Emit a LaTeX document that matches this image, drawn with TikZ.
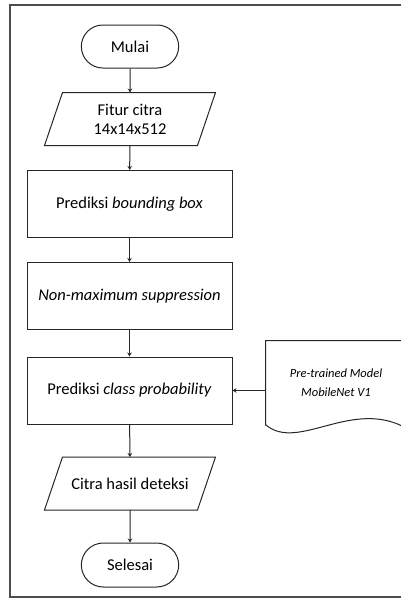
\documentclass[tikz,border=0pt]{standalone}
\usepackage{fontspec}
\setmainfont{Carlito}
\usepackage{tikz}
\usetikzlibrary{
	shapes.geometric,
	shapes.misc,
	arrows.meta,
	positioning,
	calc
}

% slanted outline for input/output boxes
\newcommand{\ioslant}[1]{\draw[draw=black!85] ($(#1.north west)+(9,0)$) -- ($(#1.north east)+(9,0)$)
    -- ($(#1.south east)+(-9,0)$) -- ($(#1.south west)+(-9,0)$) -- cycle;}

\begin{document}
\begin{tikzpicture}[x=1pt, y=-1pt, line width=1pt,
    terminal/.style={draw=black!85, rounded rectangle, minimum width=104pt, minimum height=43pt, font=\fontsize{16.5}{18}\selectfont},
    iobox/.style={rectangle, minimum width=152pt, minimum height=52pt, inner sep=1pt, align=center, font=\fontsize{16.5}{19}\selectfont},
    procbox/.style={draw=black!85, rectangle, minimum width=205pt, minimum height=67pt, font=\fontsize{16.5}{18}\selectfont},
    docbox/.style={rectangle, minimum width=140pt, minimum height=84pt, align=center, font=\fontsize{12.5}{19}\selectfont\itshape},
    arrow/.style={draw=black!85, -{Stealth[length=4pt, width=4.5pt]}}
]
\useasboundingbox (0,0) rectangle (401,600);

% outer frame (right side runs off the page)
\draw[gray!60!black, line width=1.3pt] (10,5) rectangle (412,597);

% Main flow
\node[terminal] (start) at (130,46.5) {Mulai};
\node[iobox] (fitur) at (130,119) {Fitur citra\\14x14x512};
\ioslant{fitur}
\node[procbox] (bbox) at (129.5,204) {Prediksi \textit{bounding box}};
\node[procbox] (nms) at (129.5,296) {\textit{Non-maximum suppression}};
\node[procbox] (class) at (129.5,390.5) {Prediksi \textit{class probability}};
\node[iobox] (hasil) at (130,483.5) {Citra hasil deteksi};
\ioslant{hasil}
\node[terminal, minimum height=44pt] (stop) at (130,565) {Selesai};

% Pre-trained model document
\node[docbox] (model) at (336,383) {Pre-trained Model\\MobileNet V1};
\draw[draw=black!85] (model.south west) -- (model.north west) -- (model.north east)
    (266,425) .. controls (298,452) and (352,398) .. (406,428);

% Connectors
\draw[arrow] (start) -- (fitur);
\draw[arrow] (fitur) -- (bbox);
\draw[arrow] (bbox) -- (nms);
\draw[arrow] (nms) -- (class);
\draw[arrow] (class.east -| model.west) -- (class.east);
\draw[arrow] (class) -- (hasil);
\draw[arrow] (hasil) -- (stop);

\end{tikzpicture}
\end{document}
